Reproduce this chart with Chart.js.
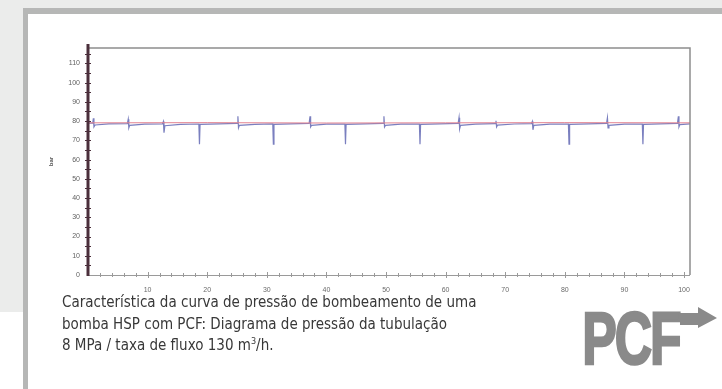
<!DOCTYPE html>
<html>
<head>
<meta charset="utf-8">
<script src="https://cdn.jsdelivr.net/npm/chart.js@4.4.0/dist/chart.umd.min.js"></script>
<style>
  html, body { margin: 0; padding: 0; }
  body { width: 722px; height: 389px; position: relative; overflow: hidden; background: #fff; font-family: "Liberation Sans", Arial, sans-serif; }
  .bg-top  { position: absolute; left: 0; top: 0; width: 722px; height: 8px; background: #ebeceb; }
  .bg-left { position: absolute; left: 0; top: 0; width: 23px; height: 312px; background: #ebeceb; }
  .frame-top  { position: absolute; left: 23px; top: 8px; width: 699px; height: 6px; background: #b6b7b6; }
  .frame-left { position: absolute; left: 23px; top: 8px; width: 5px; height: 381px; background: #b6b7b6; }
  #chart { position: absolute; left: 0; top: 0; }
  .caption {
    position: absolute; left: 62px; top: 292px;
    font-family: "Liberation Sans Narrow", "DejaVu Sans Condensed", sans-serif;
    font-size: 15px; line-height: 21.5px; color: #383838;
  }
  .caption sup { font-size: 9px; vertical-align: 6px; line-height: 0; }
  .logo { position: absolute; left: 578px; top: 300px; }
</style>
</head>
<body>
<div class="bg-top"></div>
<div class="bg-left"></div>
<div class="frame-top"></div>
<div class="frame-left"></div>
<canvas id="chart" width="722" height="389"></canvas>
<div class="caption">
  Característica da curva de pressão de bombeamento de uma<br>
  bomba HSP com PCF: Diagrama de pressão da tubulação<br>
  8 MPa / taxa de fluxo 130 m<sup>3</sup>/h.
</div>
<svg class="logo" width="144" height="70" viewBox="0 0 144 70">
  <text x="6" y="64" font-family="Liberation Sans, Arial, sans-serif" font-weight="700" font-size="74"
        fill="#8a8a8a" stroke="#8a8a8a" stroke-width="2.5" transform="scale(0.7,1)" letter-spacing="-3">PCF</text>
  <polygon points="102,13 120,13 120,7 139,18 120,28 120,25 102,25" fill="#8a8a8a"/>
</svg>

<script>
// eixo x: tempo (0-101), eixo y: pressão em bar
const xTicks = [10, 20, 30, 40, 50, 60, 70, 80, 90, 100];
const yTicks = [0, 10, 20, 30, 40, 50, 60, 70, 80, 90, 100, 110];

// curva de pressão medida (azul)
const pressureX = [0, 0.8, 0.9, 1.0, 1.2, 3.5, 6.6, 6.75, 6.85, 7.0, 9.5, 12.5, 12.65, 12.75, 12.9, 15.5,
  18.6, 18.7, 18.8, 22, 25.0, 25.15, 25.25, 25.4, 28, 31.0, 31.1, 31.2, 34, 37.1, 37.25, 37.35, 37.5, 40,
  43.1, 43.2, 43.3, 46.5, 49.5, 49.65, 49.75, 49.9, 52.5, 55.6, 55.7, 55.8, 59, 62.1, 62.25, 62.35, 62.5, 65,
  68.3, 68.45, 68.55, 68.7, 71.5, 74.4, 74.55, 74.65, 74.8, 77.5, 80.6, 80.7, 80.8, 84, 87.0, 87.15, 87.25,
  87.4, 90, 93.0, 93.1, 93.2, 96, 98.9, 99.05, 99.15, 99.3, 101];
const pressureY = [79, 79, 81.5, 77, 78, 78.6, 78.7, 81, 76.5, 77.8, 78.4, 78.6, 79.8, 74, 77.6, 78.3,
  78.5, 68, 78.3, 78.6, 78.8, 82.5, 76.5, 77.8, 78.3, 78.5, 68, 78.3, 78.6, 78.8, 82.5, 77, 77.8, 78.4,
  78.5, 68, 78.3, 78.6, 78.8, 82.5, 77, 77.8, 78.4, 78.5, 68, 78.3, 78.6, 78.8, 81.8, 76, 77.8, 78.4,
  78.7, 80.2, 77, 77.9, 78.5, 78.7, 79.8, 75.5, 77.8, 78.4, 78.5, 68, 78.3, 78.6, 78.8, 81.8, 76.5,
  77.8, 78.4, 78.5, 68, 78.3, 78.6, 78.8, 82.5, 77, 78.2, 78.6];

// curva de referência (vermelha)
const referenceX = [0, 20, 40, 60, 80, 101];
const referenceY = [79.1, 79.2, 79.0, 79.1, 79.2, 79.1];

const toPoints = (xs, ys) => xs.map((x, i) => ({ x, y: ys[i] }));

const AXIS_LEFT = 88, AXIS_RIGHT = 690, AXIS_TOP = 48, AXIS_BOTTOM = 275;

// moldura, eixo y grosso e marcas menores
const axisDecor = {
  id: 'axisDecor',
  afterDatasetsDraw(chart) {
    const { ctx, chartArea: a, scales: { x, y } } = chart;
    ctx.save();
    // borda superior e direita
    ctx.strokeStyle = '#8d8d8d';
    ctx.lineWidth = 1.5;
    ctx.beginPath();
    ctx.moveTo(a.left, a.top); ctx.lineTo(a.right, a.top); ctx.lineTo(a.right, a.bottom);
    ctx.stroke();
    // eixo x
    ctx.strokeStyle = '#9a9a9a';
    ctx.lineWidth = 1;
    ctx.beginPath();
    ctx.moveTo(a.left, a.bottom + 0.5); ctx.lineTo(a.right, a.bottom + 0.5);
    for (let v = 2; v <= 100; v += 2) {
      const px = Math.round(x.getPixelForValue(v)) + 0.5;
      const len = v % 10 === 0 ? 3 : 2;
      ctx.moveTo(px, a.bottom - len); ctx.lineTo(px, a.bottom + len);
    }
    ctx.stroke();
    // eixo y
    ctx.strokeStyle = '#4b2f3b';
    ctx.lineWidth = 3;
    ctx.beginPath();
    ctx.moveTo(a.left, a.top - 4); ctx.lineTo(a.left, a.bottom + 1);
    ctx.stroke();
    ctx.lineWidth = 1;
    ctx.beginPath();
    for (let v = 5; v <= 115; v += 5) {
      const py = Math.round(y.getPixelForValue(v)) + 0.5;
      ctx.moveTo(a.left - 3, py); ctx.lineTo(a.left + 3, py);
    }
    ctx.stroke();
    ctx.restore();
  }
};

new Chart(document.getElementById('chart'), {
  type: 'scatter',
  data: {
    datasets: [
      { label: 'referência', data: toPoints(referenceX, referenceY), showLine: true,
        borderColor: '#e3828f', borderWidth: 1, pointRadius: 0, order: 0 },
      { label: 'pressão', data: toPoints(pressureX, pressureY), showLine: true,
        borderColor: '#7a7fbf', borderWidth: 1.2, pointRadius: 0, order: 1 }
    ]
  },
  options: {
    responsive: false,
    animation: false,
    layout: { padding: { left: AXIS_LEFT - 40, right: 722 - AXIS_RIGHT, top: AXIS_TOP, bottom: 389 - AXIS_BOTTOM - 22 } },
    plugins: { legend: { display: false }, tooltip: { enabled: false } },
    scales: {
      x: {
        type: 'linear', min: 0, max: 101,
        afterBuildTicks: s => { s.ticks = xTicks.map(v => ({ value: v })); },
        afterFit: s => { s.height = 22; },
        grid: { display: false, drawTicks: false },
        border: { display: false },
        ticks: { padding: 11, maxRotation: 0, color: '#6a6a6a', font: { size: 7, family: 'Liberation Sans, Arial' } }
      },
      y: {
        type: 'linear', min: 0, max: 118,
        afterBuildTicks: s => { s.ticks = yTicks.map(v => ({ value: v })); },
        afterFit: s => { s.width = 40; },
        grid: { display: false, drawTicks: false },
        border: { display: false },
        title: { display: true, text: 'bar', color: '#555', padding: 0, font: { size: 6, weight: 'bold' } },
        ticks: { padding: 8, color: '#5f5f5f', font: { size: 7, family: 'Liberation Sans, Arial' } }
      }
    }
  },
  plugins: [axisDecor]
});
</script>
</body>
</html>
